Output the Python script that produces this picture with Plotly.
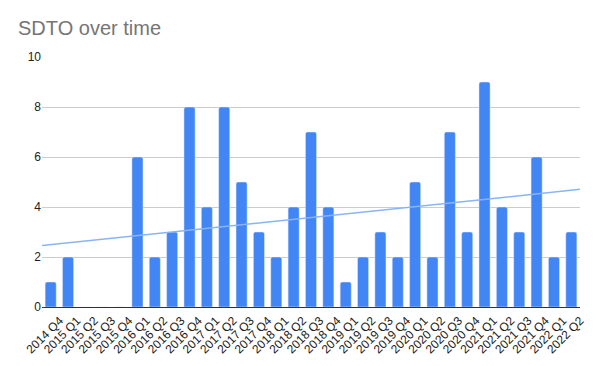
import numpy as np
import plotly.graph_objects as go

categories = ["2014 Q4",
              "2015 Q1", "2015 Q2", "2015 Q3", "2015 Q4",
              "2016 Q1", "2016 Q2", "2016 Q3", "2016 Q4",
              "2017 Q1", "2017 Q2", "2017 Q3", "2017 Q4",
              "2018 Q1", "2018 Q2", "2018 Q3", "2018 Q4",
              "2019 Q1", "2019 Q2", "2019 Q3", "2019 Q4",
              "2020 Q1", "2020 Q2", "2020 Q3", "2020 Q4",
              "2021 Q1", "2021 Q2", "2021 Q3", "2021 Q4",
              "2022 Q1", "2022 Q2"]
values = [1,
          2, 0, 0, 0,
          6, 2, 3, 8,
          4, 8, 5, 3,
          2, 4, 7, 4,
          1, 2, 3, 2,
          5, 2, 7, 3,
          9, 4, 3, 6,
          2, 3]
y_ticks = [0, 2, 4, 6, 8, 10]

idx = np.arange(len(categories))
slope, intercept = np.polyfit(idx, values, 1)
tx = np.array([-0.5, len(categories) - 0.5])
ty = slope * tx + intercept

fig = go.Figure()
fig.add_trace(go.Bar(x=idx, y=values, marker=dict(color="#4285f4", cornerradius=2),
                     width=0.64, showlegend=False))
fig.add_trace(go.Scatter(x=tx, y=ty, mode="lines", line=dict(color="#8ab4f8", width=1.5),
                         showlegend=False, hoverinfo="skip"))

fig.update_layout(
    width=598, height=366,
    margin=dict(l=42, r=18, t=57, b=59, autoexpand=False),
    paper_bgcolor="white", plot_bgcolor="white",
    font=dict(family="Liberation Sans, Arial, sans-serif", size=12, color="#222222"),
    title=dict(text="SDTO over time", x=18 / 598, xanchor="left", xref="container",
               y=1 - 28 / 366, yanchor="middle", yref="container",
               font=dict(size=20, color="#757575", family="Liberation Sans, Arial, sans-serif"),
               automargin=False),
    xaxis=dict(tickmode="array", tickvals=idx.tolist(), ticktext=categories, tickangle=-45,
               range=[-0.5, len(categories) - 0.5], showgrid=False, zeroline=False,
               showline=True, linecolor="#333333", linewidth=1, ticks="", automargin=False,
               ticklabelshift=9, ticklabelstandoff=1,
               tickfont=dict(size=12, color="#222222")),
    yaxis=dict(range=[0, 10], tickvals=y_ticks, showgrid=True, gridcolor="#cccccc",
               zeroline=False, ticks="", automargin=False,
               tickfont=dict(size=12, color="#222222")),
)
fig.write_html("out.html", config={"displayModeBar": False},
               post_script="document.body.style.margin='0';document.body.style.padding='0';")
